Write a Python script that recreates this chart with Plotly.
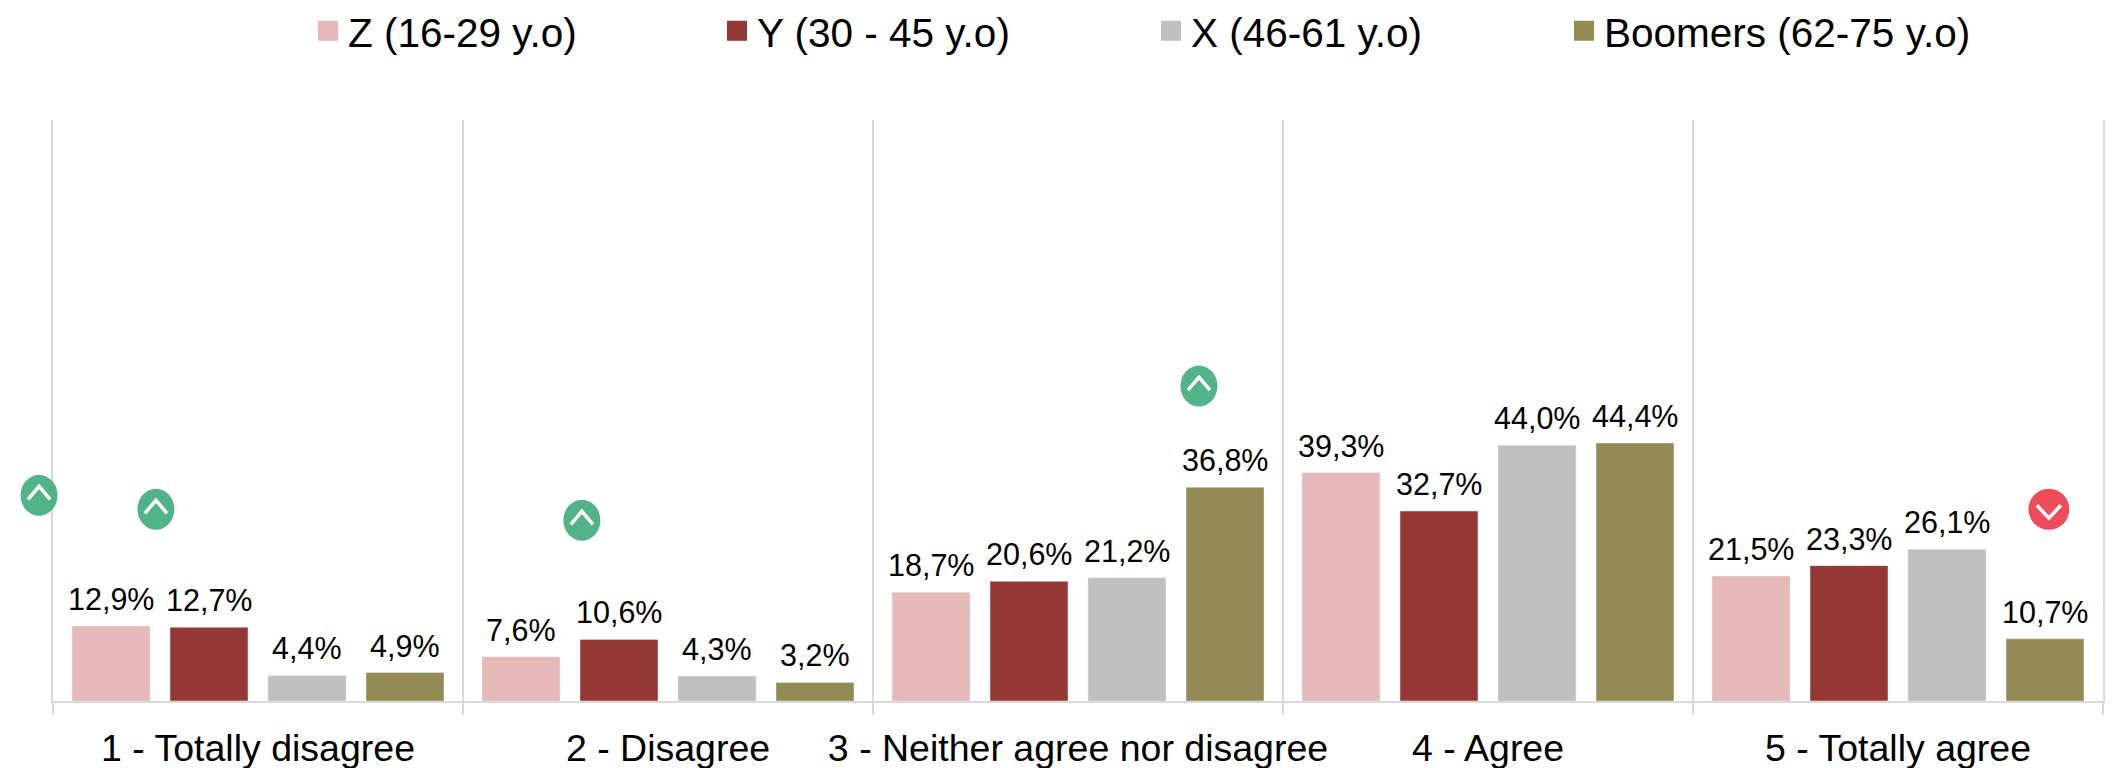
import plotly.graph_objects as go

# Survey answers by generation (percent of respondents)
categories = ["1 - Totally disagree", "2 - Disagree", "3 - Neither agree nor disagree",
              "4 - Agree", "5 - Totally agree"]
series_names = ["Z (16-29 y.o)", "Y (30 - 45 y.o)", "X (46-61 y.o)", "Boomers (62-75 y.o)"]
gen_z = [12.9, 7.6, 18.7, 39.3, 21.5]
gen_y = [12.7, 10.6, 20.6, 32.7, 23.3]
gen_x = [4.4, 4.3, 21.2, 44.0, 26.1]
boomers = [4.9, 3.2, 36.8, 44.4, 10.7]

# Significance flags: position along the categories, height on the value axis, direction
flag_positions = [-0.034, 0.251, 1.29, 2.795, 4.868]
flag_levels = [35.4, 33.0, 31.1, 54.2, 33.0]
flag_directions = ["up", "up", "up", "up", "down"]

all_series = [gen_z, gen_y, gen_x, boomers]
colors = ["#E6B8B7", "#953735", "#BFBFBF", "#948A54"]
legend_left_px = [308, 717, 1151, 1564]

WIDTH, HEIGHT = 2113, 768
LEFT, RIGHT, TOP, BOTTOM = 53, 10, 120, 67
FONT = "Liberation Sans, Arial, sans-serif"
BAR_GAP, GROUP_GAP = 0.0439, 0.204
SLOT = (1 - BAR_GAP) / len(all_series)  # share of a category taken by one bar and its gap

fig = go.Figure()
labels = []
for j, (name, values, color) in enumerate(zip(series_names, all_series, colors)):
    fig.add_bar(x=categories, y=values, name=name, marker_color=color, showlegend=False)
    # Value labels sit a little higher above the bars than the built-in outside text
    for i, v in enumerate(values):
        labels.append(dict(
            x=i + (j - 1.5) * SLOT, y=v, xref="x", yref="y",
            text=f"{v:.1f}%".replace(".", ","), showarrow=False,
            xanchor="center", yanchor="bottom", yshift=8,
            font=dict(size=30.5, color="#000000", family=FONT),
        ))

# Each generation gets its own legend box so the entries sit at even text gaps
layout_legends = {}
for i, (name, color, left) in enumerate(zip(series_names, colors, legend_left_px)):
    key = "legend" if i == 0 else f"legend{i + 1}"
    fig.add_scatter(
        x=[None], y=[None], mode="markers", name=name, legend=key,
        marker=dict(symbol="square", size=16, color=color, line=dict(color=color, width=4)),
    )
    layout_legends[key] = dict(
        xref="container", yref="container",
        x=left / WIDTH, y=1 - 31 / HEIGHT,
        xanchor="left", yanchor="middle", itemsizing="trace", itemwidth=30,
        bgcolor="rgba(0,0,0,0)", font=dict(size=40.5, color="#000000", family=FONT),
    )

# Round badges with a chevron, anchored on the value axis
shapes = []
for pos, level, direction in zip(flag_positions, flag_levels, flag_directions):
    up = direction == "up"
    anchor = dict(xref="paper", yref="y", xsizemode="pixel", ysizemode="pixel",
                  xanchor=pos / len(categories), yanchor=level, layer="above")
    rx = 18.5 if up else 20.5
    shapes.append(dict(type="circle", x0=-rx, x1=rx, y0=-20.5, y1=20.5,
                       fillcolor="#52B288" if up else "#ED4C5C",
                       line=dict(width=0), **anchor))
    path = "M-11,-4L0,9L11,-4" if up else "M-12,4L0,-9L12,4"
    shapes.append(dict(type="path", path=path, line=dict(color="#FFFFFF", width=3.5), **anchor))

fig.update_layout(
    width=WIDTH, height=HEIGHT,
    margin=dict(l=LEFT, r=RIGHT, t=TOP, b=BOTTOM, pad=0, autoexpand=False),
    paper_bgcolor="#FFFFFF", plot_bgcolor="#FFFFFF",
    barmode="group", bargap=BAR_GAP, bargroupgap=GROUP_GAP,
    font=dict(family=FONT, color="#000000"),
    shapes=shapes,
    annotations=labels,
    **layout_legends,
)
fig.update_xaxes(
    type="category", categoryorder="array", categoryarray=categories,
    tickson="boundaries", ticks="outside", ticklen=12, tickwidth=2, tickcolor="#D9D9D9",
    showgrid=True, gridcolor="#D9D9D9", gridwidth=2,
    showline=True, linecolor="#D9D9D9", linewidth=2,
    tickangle=0, ticklabelstandoff=13,
    tickfont=dict(size=37.5, color="#000000", family=FONT),
)
# The value axis only contributes the outer frame lines of the first and last category
fig.update_yaxes(
    range=[0, 100], showgrid=False, zeroline=False, showticklabels=False, ticks="",
    showline=True, mirror=True, linecolor="#D9D9D9", linewidth=2,
)

fig.write_html("out.html")
